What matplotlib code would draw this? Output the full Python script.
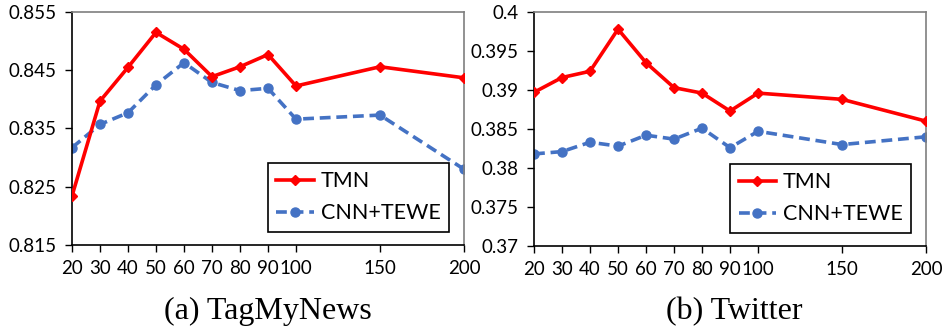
import numpy as np
import matplotlib
matplotlib.use("Agg")
import matplotlib.pyplot as plt

# number of topics (x axis)
topics = [20, 30, 40, 50, 60, 70, 80, 90, 100, 150, 200]

# (a) TagMyNews
tmn_news = [0.8234, 0.8397, 0.8455, 0.8515, 0.8486, 0.8439, 0.8456, 0.8477, 0.8423, 0.8456, 0.8437]
cnn_news = [0.8317, 0.8357, 0.8377, 0.8425, 0.8463, 0.8429, 0.8415, 0.8419, 0.8366, 0.8373, 0.8280]

# (b) Twitter
tmn_tw = [0.3897, 0.3916, 0.3924, 0.3978, 0.3935, 0.3903, 0.3896, 0.3873, 0.3896, 0.3888, 0.3860]
cnn_tw = [0.3818, 0.3821, 0.3833, 0.3828, 0.3842, 0.3837, 0.3851, 0.3826, 0.3847, 0.3830, 0.3840]

captions = ["(a) TagMyNews", "(b) Twitter"]


# the x axis is not linear: 20..100 step one slot each 10, then 3 slots per 50
def fwd(v):
    v = np.asarray(v, dtype=float)
    return np.where(v <= 100, (v - 20) / 10.0, 8 + (v - 100) * 3 / 50.0)


def inv(p):
    p = np.asarray(p, dtype=float)
    return np.where(p <= 8, 20 + p * 10.0, 100 + (p - 8) * 50 / 3.0)


tick_font = "Lato"
red = "#FF0000"
blue = "#4472C4"
spine_col = "#7f7f7f"

fig = plt.figure(figsize=(9.46, 3.31), dpi=100)
ax1 = fig.add_axes([0.0761, 0.260, 0.4144, 0.7037])
ax2 = fig.add_axes([0.5645, 0.257, 0.4144, 0.7067])

panels = [
    (ax1, tmn_news, cnn_news, (0.815, 0.855), np.arange(0.815, 0.8551, 0.01), "%.3f"),
    (ax2, tmn_tw, cnn_tw, (0.37, 0.40), np.arange(0.37, 0.4001, 0.005), None),
]

for ax, tmn, cnn, ylim, yt, fmt in panels:
    ax.set_xscale("function", functions=(fwd, inv))
    ax.plot(topics, tmn, color=red, lw=2.6, marker="D", ms=5.5, label="TMN", zorder=3)
    ax.plot(topics, cnn, color=blue, lw=2.6, ls=(0, (3, 1.6)), marker="o", ms=6.5,
            label="CNN+TEWE", zorder=2)
    ax.set_xlim(20, 200)
    ax.set_ylim(*ylim)
    ax.set_xticks(topics)
    ax.set_xticklabels([str(t) for t in topics])
    ax.xaxis.set_minor_locator(plt.NullLocator())
    ax.set_yticks(yt)
    if fmt:
        ax.set_yticklabels([fmt % v for v in yt])
    else:
        ax.set_yticklabels([("%.3f" % v).rstrip("0").rstrip(".") for v in yt])
    for s in ax.spines.values():
        s.set_color(spine_col)
        s.set_linewidth(1.2)
    ax.spines["left"].set_color("black")
    ax.spines["bottom"].set_color("black")
    ax.tick_params(axis="both", direction="out", length=5, width=1,
                   labelsize=13.5, pad=6)
    for lab in ax.get_xticklabels() + ax.get_yticklabels():
        lab.set_fontfamily(tick_font)
    leg = ax.legend(loc="lower right", bbox_to_anchor=(0.962, 0.056), borderaxespad=0,
                    fancybox=False, edgecolor="black", framealpha=1, handlelength=1.75,
                    borderpad=0.4, labelspacing=0.55, handletextpad=0.3,
                    prop={"family": tick_font, "size": 15.5})
    leg.get_frame().set_linewidth(1.2)

fig.text(0.283, 0.06, captions[0], ha="center", va="center",
         family="Liberation Serif", fontsize=23)
fig.text(0.776, 0.06, captions[1], ha="center", va="center",
         family="Liberation Serif", fontsize=23)

fig.savefig("out.png", dpi=100)
